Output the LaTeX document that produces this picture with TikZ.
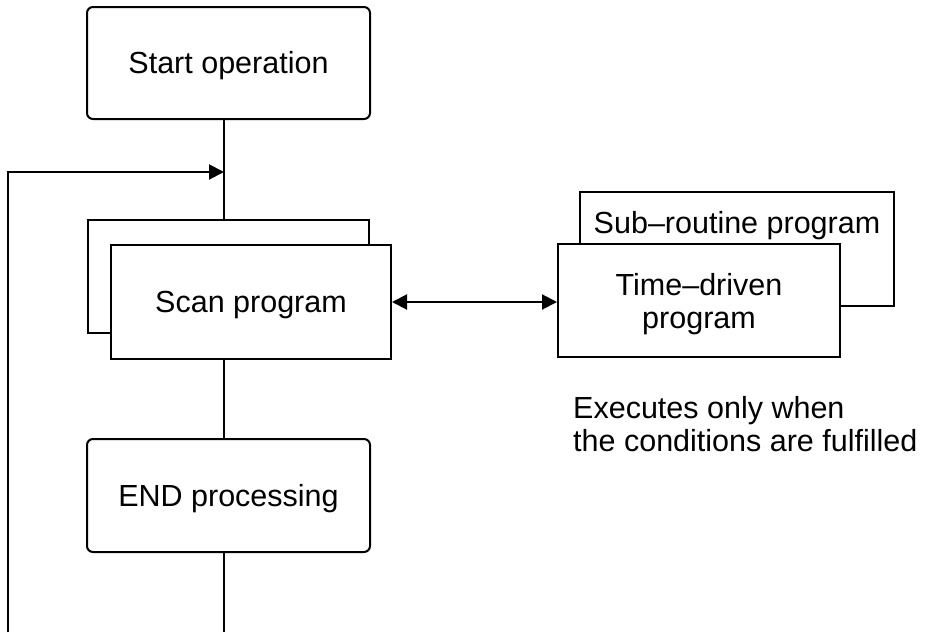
\documentclass[tikz,border=0pt]{standalone}
\usepackage{fontspec}
\setmainfont{Liberation Sans}
\usetikzlibrary{arrows.meta}
\tikzset{
  fnt/.style={font=\fontsize{30.5}{33}\selectfont},
  txt/.style={fnt, inner sep=0pt},
  box/.style={draw, line width=2pt, fill=white, inner sep=0pt, align=center, fnt},
  oneline/.style={text height=21.8pt, text depth=0pt},
  rbox/.style={box, rounded corners=6pt},
  conn/.style={line width=2pt},
  tip/.style={-{Triangle[length=15pt,width=15pt]}},
  dtip/.style={{Triangle[length=15pt,width=15pt]}-{Triangle[length=15pt,width=15pt]}}
}
\begin{document}
\begin{tikzpicture}[x=1pt,y=-1pt]
\useasboundingbox (0,0) rectangle (936,632);
% main column
\node[rbox, oneline, minimum width=283pt, minimum height=112pt] (start) at (228.5,63) {Start operation};
\coordinate (j) at (224,172);
\coordinate (loopbot) at (8,632);
\coordinate (colbot) at (224,632);
\node[box, minimum width=281pt, minimum height=113pt] (scanback) at (228.5,276.5) {};
\node[box, oneline, minimum width=280pt, minimum height=114pt] (scan) at (251,302) {Scan program};
\node[rbox, oneline, minimum width=283pt, minimum height=113pt] (endp) at (228.5,495.5) {END processing};
% right side
\node[box, minimum width=314pt, minimum height=114pt] (sub) at (737,249) {};
\node[txt, oneline] (subtxt) at (737,222.5) {Sub–routine program};
\node[box, text depth=0pt, minimum width=282pt, minimum height=113pt] (td) at (699,300.5) {Time–driven\\program};
\node[txt, anchor=north west, align=left] (note) at (573,396.6) {Executes only when\\the conditions are fulfilled};
% connectors
\draw[conn] (start.south -| j) -- (scanback.north -| j);
\draw[conn] (scan.south -| j) -- (endp.north -| j);
\draw[conn] (endp.south -| j) -- (colbot);
\draw[conn, tip] (loopbot) |- (j);
\draw[conn, dtip] (scan.east) -- (scan.east -| td.west);
\end{tikzpicture}
\end{document}
